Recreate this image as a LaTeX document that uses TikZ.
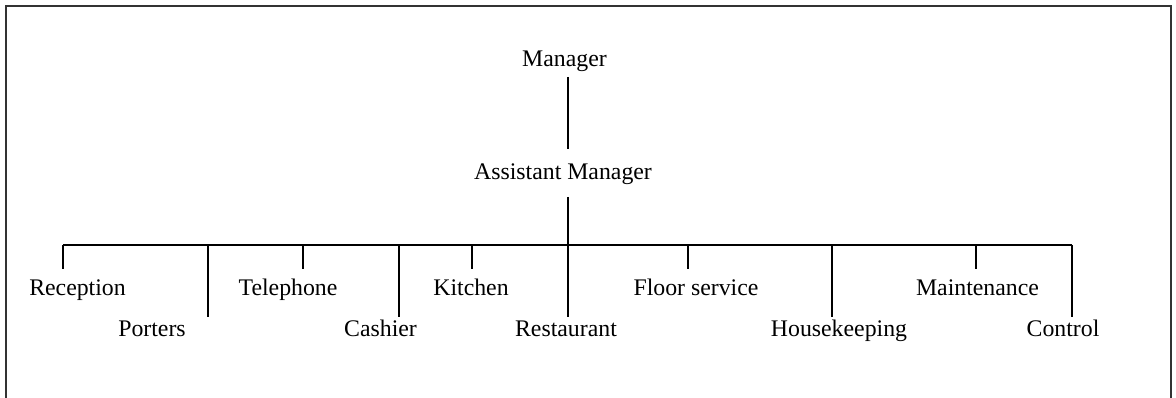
\documentclass[tikz,border=0pt]{standalone}
\usepackage{fontspec}
\setmainfont{Liberation Serif}
\begin{document}
\begin{tikzpicture}[x=1pt,y=-1pt,
  lbl/.style={font=\fontsize{23.8}{28}\selectfont, inner sep=0pt, anchor=base},
  link/.style={line width=1.6pt},
  frame/.style={line width=1.4pt, black!80}]
\useasboundingbox (0,0) rectangle (1176,398);
% open frame (no bottom edge)
\draw[frame] (6,398) -- (6,6) -- (1171,6) -- (1171,398);

% top of the chart
\node[lbl] (mgr)  at (564.5,67) {Manager};
\node[lbl] (asst) at (563,180) {Assistant Manager};

% departments, upper row
\node[lbl] (rec)   at (77.5,295) {Reception};
\node[lbl] (tel)   at (288,295)  {Telephone};
\node[lbl] (kit)   at (471,295)  {Kitchen};
\node[lbl] (floor) at (696,295)  {Floor service};
\node[lbl] (maint) at (977.5,295){Maintenance};
% departments, lower row
\node[lbl] (port)  at (152,336)  {Porters};
\node[lbl] (cash)  at (380.5,336){Cashier};
\node[lbl] (rest)  at (566,336)  {Restaurant};
\node[lbl] (house) at (839,336)  {Housekeeping};
\node[lbl] (ctrl)  at (1063,336) {Control};

% spine
\coordinate (mgrB)  at (568,77);
\coordinate (asstT) at (568,149);
\coordinate (asstB) at (568,197);
\coordinate (hub)   at (568,245);
\draw[link] (mgrB) -- (asstT);
\draw[link] (asstB) -- (hub);

% horizontal bar
\coordinate (barL) at (63,245);
\coordinate (barR) at (1072,245);
\draw[link] (barL) -- (barR);

% drops: short ones end above the upper row, long ones above the lower row
\foreach \x/\n in {63/rec, 303/tel, 472/kit, 688/floor, 976/maint}{
  \coordinate (j-\n) at (\x,245);
  \coordinate (e-\n) at (\x,269);
  \draw[link] (j-\n) -- (e-\n);
}
\foreach \x/\n in {208/port, 399/cash, 568/rest, 832/house, 1072/ctrl}{
  \coordinate (j-\n) at (\x,245);
  \coordinate (e-\n) at (\x,317);
  \draw[link] (j-\n) -- (e-\n);
}
\end{tikzpicture}
\end{document}
